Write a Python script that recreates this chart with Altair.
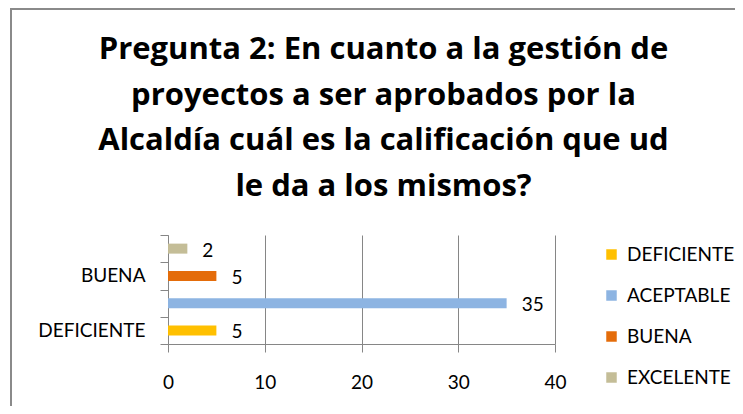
import altair as alt
import pandas as pd

categories = ["DEFICIENTE", "ACEPTABLE", "BUENA", "EXCELENTE"]
values = [5, 35, 5, 2]
colors = ["#FFC000", "#8DB4E2", "#E46C0A", "#C4BD97"]
x_ticks = [0, 10, 20, 30, 40]
shown_y_labels = ["DEFICIENTE", "BUENA"]
title_lines = [
    "Pregunta 2: En cuanto a la gestión de",
    "proyectos a ser aprobados por la",
    "Alcaldía cuál es la calificación que ud",
    "le da a los mismos?",
]

df = pd.DataFrame({"cat": categories, "val": values})

FONT = "Lato"
TITLE_FONT = "Open Sans"
GRID = "#868686"
FS = 19
y_order = categories[::-1]

label_expr = " || ".join([f"datum.label == '{c}'" for c in shown_y_labels])

base = alt.Chart(df).encode(
    y=alt.Y(
        "cat:N",
        sort=y_order,
        title=None,
        scale=alt.Scale(paddingInner=0, paddingOuter=0),
        axis=alt.Axis(
            labelExpr=f"({label_expr}) ? datum.label : ''",
            tickBand="extent",
            tickSize=8,
            tickColor=GRID,
            domainColor=GRID,
            labelFont=FONT,
            labelFontSize=FS,
            labelColor="#000",
            labelPadding=15,
            grid=False,
        ),
    ),
    x=alt.X(
        "val:Q",
        title=None,
        scale=alt.Scale(domain=[0, 40]),
        axis=alt.Axis(
            values=x_ticks,
            tickSize=8,
            tickColor=GRID,
            domainColor=GRID,
            gridColor=GRID,
            grid=True,
            labelFlush=False,
            labelFont=FONT,
            labelFontSize=FS,
            labelColor="#000",
            labelPadding=21,
        ),
    ),
)

bars = base.mark_bar(size=10).encode(
    color=alt.Color(
        "cat:N",
        scale=alt.Scale(domain=categories, range=colors),
        legend=alt.Legend(
            title=None,
            orient="none",
            legendX=434,
            legendY=10,
            symbolType="square",
            symbolSize=110,
            symbolStrokeWidth=0,
            labelFont=FONT,
            labelFontSize=FS,
            labelColor="#000",
            labelOffset=6,
            rowPadding=21,
            padding=0,
        ),
    )
)

labels = base.mark_text(
    align="left", baseline="middle", dx=15, dy=2, fontSize=FS, font=FONT, color="#000"
).encode(text="val:Q")

frame = (
    alt.Chart(alt.Data(values=[{}]))
    .mark_rect(filled=False, stroke="#8a8a8a", strokeWidth=2)
    .encode(x=alt.value(-157), x2=alt.value(3000), y=alt.value(-226), y2=alt.value(3000))
)

title = (
    alt.Chart(alt.Data(values=[{"t": "\n".join(title_lines)}]))
    .mark_text(
        font=TITLE_FONT,
        fontSize=31,
        fontWeight="bold",
        lineBreak="\n",
        lineHeight=45.5,
        align="center",
        baseline="alphabetic",
        color="#000",
    )
    .encode(text="t:N", x=alt.value(215.5), y=alt.value(-176))
)

chart = (
    alt.layer(frame, bars, labels, title)
    .properties(
        width=387,
        height=109,
        autosize=alt.AutoSizeParams(type="none"),
        padding={"left": 160, "top": 227, "right": 180, "bottom": 62},
    )
    .configure_view(stroke=None)
)

chart.save("out.html", embed_options={"renderer": "svg", "actions": False})
